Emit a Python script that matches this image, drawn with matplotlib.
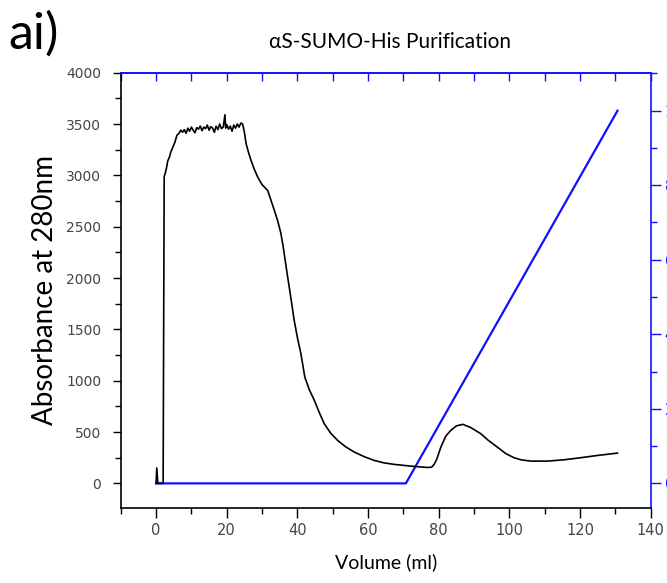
import matplotlib
matplotlib.use("Agg")
import matplotlib.pyplot as plt
from matplotlib.ticker import MultipleLocator

# A280 trace (black)
vol = [0.0, 0.2, 0.5, 2.0, 2.3, 2.6, 3.0, 3.3, 3.8, 4.2, 4.7, 5.3, 5.9, 6.5, 7.0,
       7.5, 8.0, 8.5, 9.0, 9.5, 10.0, 10.5, 11.0, 11.5, 12.0, 12.5, 13.0, 13.5,
       14.0, 14.5, 15.0, 15.5, 16.0, 16.5, 17.0, 17.5, 18.0, 18.5, 19.0, 19.5,
       19.7, 20.0, 20.5, 21.0, 21.5, 22.0, 22.5, 23.0, 23.5, 24.0, 24.5,
       25.0, 25.5, 26.2, 26.9, 27.8, 28.8, 30.0, 31.6, 32.5, 33.5, 34.4, 35.3,
       36.0, 36.6, 37.2, 37.7, 38.4, 39.1, 40.0, 41.0, 42.1, 43.4, 44.8, 46.2, 47.6,
       49.4, 51.4, 53.7, 56.1, 58.8, 61.7, 64.5, 67.4, 70.2, 73.0, 75.0, 76.8,
       78.0, 78.7, 79.5, 80.6, 82.0, 83.4, 85.0, 86.8, 89.0, 91.9, 94.0, 96.6,
       99.0, 101.3, 103.5, 106.1, 110.8, 115.5, 120.2, 124.9, 130.6]
a280 = [0, 150, 0, 0, 2990, 3020, 3080, 3140, 3180, 3230, 3270, 3320, 3390, 3410, 3440,
        3420, 3445, 3410, 3460, 3430, 3470, 3440, 3415, 3465, 3450, 3480, 3435, 3470,
        3455, 3490, 3440, 3475, 3460, 3420, 3480, 3445, 3500, 3455, 3470, 3590,
        3460, 3495, 3450, 3480, 3430, 3490, 3460, 3500, 3470, 3510, 3500,
        3420, 3306, 3220, 3143, 3060, 2981, 2910, 2852, 2760, 2657, 2560, 2440,
        2300, 2160, 2020, 1910, 1750, 1586, 1420, 1262, 1035, 910, 808, 690, 581,
        490, 418, 355, 305, 262, 224, 200, 185, 175, 165, 160, 155,
        158, 185, 240, 353, 460, 516, 560, 575, 545, 484, 420, 353,
        290, 250, 228, 217, 217, 230, 250, 272, 295]

# gradient (blue), % buffer B
grad_vol = [0.0, 70.7, 130.6]
grad_pct = [0, 0, 100]

blue = "#1010ff"
grey = "#444444"

fig = plt.figure(figsize=(6.67, 5.83), dpi=100)
ax = fig.add_axes([0.181, 0.1286, 0.7946, 0.7467])
ax2 = ax.twinx()

ax.plot(vol, a280, color="black", lw=1.2, zorder=3)
ax2.plot(grad_vol, grad_pct, color=blue, lw=1.6)
ax.set_zorder(ax2.get_zorder() + 1)
ax.patch.set_visible(False)

ax.set_xlim(-10, 140)
ax.set_ylim(-240, 4000)
ax2.set_ylim(-240 / 36.3, 4000 / 36.3)

ax.xaxis.set_major_locator(MultipleLocator(20))
ax.xaxis.set_minor_locator(MultipleLocator(10))
ax.yaxis.set_major_locator(MultipleLocator(500))
ax.yaxis.set_minor_locator(MultipleLocator(250))
ax2.yaxis.set_major_locator(MultipleLocator(20))
ax2.yaxis.set_minor_locator(MultipleLocator(10))

ax.spines["top"].set_color(blue)
ax.spines["right"].set_visible(False)
ax2.spines["top"].set_color(blue)
ax2.spines["right"].set_color(blue)
ax2.spines["left"].set_visible(False)
ax2.spines["bottom"].set_visible(False)
for s in list(ax.spines.values()) + list(ax2.spines.values()):
    s.set_linewidth(1.2)

ax.tick_params(axis="x", which="major", direction="out", length=7, width=1, pad=4,
               labelsize=10.5, labelcolor=grey, top=False)
ax.tick_params(axis="x", which="minor", direction="out", length=4, width=1, top=False)
ax.tick_params(axis="y", which="major", direction="out", length=6, width=1, pad=8,
               labelsize=10, labelcolor=grey)
ax.tick_params(axis="y", which="minor", direction="out", length=4, width=1)

# top ticks: inward, blue (drawn by the twin's x axis)
ax2.xaxis.set_visible(True)
ax2.tick_params(axis="x", which="both", top=True, bottom=False, labeltop=False,
                labelbottom=False, direction="in", color=blue, width=1)
ax2.tick_params(axis="x", which="major", length=6)
ax2.tick_params(axis="x", which="minor", length=6)
ax2.tick_params(axis="y", which="major", direction="out", length=7, width=1, pad=3,
                colors=blue, labelsize=10.5)
ax2.tick_params(axis="y", which="minor", direction="out", length=4, width=1, colors=blue)

ax.set_ylabel("Absorbance at 280nm", fontsize=20, family=["Lato", "DejaVu Sans"], labelpad=6)
ax.set_xlabel("Volume (ml)", fontsize=14, family=["Lato", "DejaVu Sans"], labelpad=11)

fig.text(0.585, 0.928, "αS-SUMO-His Purification", ha="center", va="center",
         fontsize=15, family=["Lato", "DejaVu Sans"])
fig.text(0.013, 0.942, "ai)", ha="left", va="center", fontsize=36,
         family=["Lato", "DejaVu Sans"])

fig.savefig("out.png", dpi=100)
